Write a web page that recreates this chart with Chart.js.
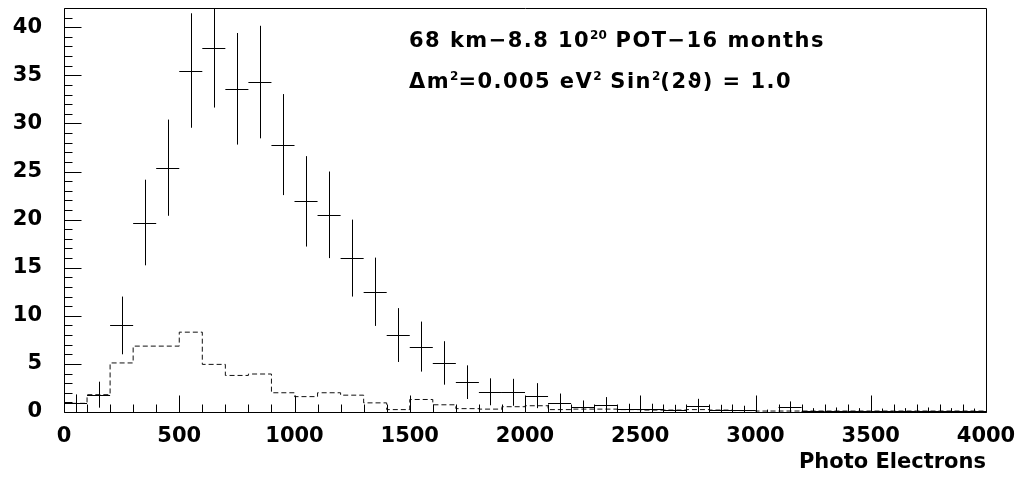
<!DOCTYPE html>
<html>
<head>
<meta charset="utf-8">
<title>Photo Electrons</title>
<script src="https://cdn.jsdelivr.net/npm/chart.js@4.4.1/dist/chart.umd.min.js"></script>
<style>
  html, body { margin: 0; padding: 0; background: #fff; }
  #wrap { position: relative; width: 1022px; height: 477px; }
</style>
</head>
<body>
<div id="wrap"><canvas id="peChart"></canvas></div>
<script>
// lower edge of each 100 p.e. bin
const binLow = [
  0, 100, 200, 300, 400, 500, 600, 700, 800, 900,
  1000, 1100, 1200, 1300, 1400, 1500, 1600, 1700, 1800, 1900,
  2000, 2100, 2200, 2300, 2400, 2500, 2600, 2700, 2800, 2900,
  3000, 3100, 3200, 3300, 3400, 3500, 3600, 3700, 3800, 3900
];
const binWidth = 100;
const xMax = 4000;

// expected events (crosses) and their errors
const signal = [
  0.9, 1.8, 9.0, 19.7, 25.4, 35.5, 37.8, 33.6, 34.3, 27.8,
  21.9, 20.5, 16.0, 12.5, 8.0, 6.8, 5.1, 3.1, 2.1, 2.05,
  1.7, 0.95, 0.5, 0.7, 0.3, 0.3, 0.25, 0.6, 0.25, 0.2,
  0.05, 0.5, 0.1, 0.12, 0.1, 0.08, 0.1, 0.12, 0.1, 0.08
];
const signalErr = [
  0.93, 1.35, 3.0, 4.45, 5.0, 5.95, 6.15, 5.8, 5.85, 5.25,
  4.7, 4.5, 4.0, 3.55, 2.8, 2.6, 2.26, 1.75, 1.4, 1.4,
  1.3, 0.97, 0.7, 0.85, 0.56, 0.56, 0.5, 0.77, 0.5, 0.45,
  0.2, 0.6, 0.3, 0.35, 0.3, 0.28, 0.3, 0.35, 0.3, 0.28
];

// dashed histogram
const background = [
  0.9, 1.8, 5.1, 6.85, 6.85, 8.3, 4.95, 3.8, 3.95, 2.0,
  1.6, 2.0, 1.75, 0.95, 0.25, 1.3, 0.75, 0.35, 0.3, 0.55,
  0.65, 0.25, 0.3, 0.3, 0.25, 0.2, 0.2, 0.25, 0.2, 0.15,
  0.1, 0.1, 0.1, 0.1, 0.1, 0.1, 0.1, 0.1, 0.1, 0.1
];

const xTicks = [0, 500, 1000, 1500, 2000, 2500, 3000, 3500, 4000];
const yTicks = [0, 5, 10, 15, 20, 25, 30, 35, 40];
const yMax = 42;

const titleLine1 = [['68 km\u22128.8 10'], ['20', true], [' POT\u221216 months']];
const titleLine2 = [['\u0394m'], ['2', true], ['=0.005 eV'], ['2', true], [' Sin'], ['2', true], ['(2\u03d1) = 1.0']];

const FONT = "'DejaVu Sans', sans-serif";

// step histogram points: left edge of each bin, plus closing point at xMax
const bgPoints = binLow.map((x, i) => ({ x: x, y: background[i] }));
bgPoints.push({ x: xMax, y: background[background.length - 1] });

const sigPoints = binLow.map((x, i) => ({ x: x + binWidth / 2, y: signal[i] }));

// crosses: full bin width horizontally, +-error vertically
const crossPlugin = {
  id: 'crosses',
  afterDatasetsDraw(chart) {
    const { ctx, chartArea, scales: { x, y } } = chart;
    ctx.save();
    ctx.beginPath();
    ctx.rect(chartArea.left, chartArea.top, chartArea.right - chartArea.left, chartArea.bottom - chartArea.top);
    ctx.clip();
    ctx.strokeStyle = '#000';
    ctx.lineWidth = 1;
    signal.forEach((v, i) => {
      const x0 = x.getPixelForValue(binLow[i]);
      const x1 = x.getPixelForValue(binLow[i] + binWidth);
      const xc = Math.round(x.getPixelForValue(binLow[i] + binWidth / 2)) + 0.5;
      const yc = Math.round(y.getPixelForValue(v)) + 0.5;
      const yTop = y.getPixelForValue(v + signalErr[i]);
      const yBot = y.getPixelForValue(Math.max(0, v - signalErr[i]));
      ctx.beginPath();
      ctx.moveTo(x0, yc);
      ctx.lineTo(x1, yc);
      ctx.moveTo(xc, yTop);
      ctx.lineTo(xc, yBot);
      ctx.stroke();
    });
    ctx.restore();
  }
};

// frame and inward ticks
const framePlugin = {
  id: 'frame',
  afterDraw(chart) {
    const { ctx, chartArea: a, scales: { x, y } } = chart;
    const L = Math.round(a.left) + 0.5, R = Math.round(a.right) + 0.5;
    const T = Math.round(a.top) + 0.5, B = Math.round(a.bottom) + 0.5;
    ctx.save();
    ctx.strokeStyle = '#000';
    ctx.lineWidth = 1;
    ctx.beginPath();
    ctx.rect(L, T, R - L, B - T);
    ctx.stroke();
    ctx.beginPath();
    for (let v = 0; v <= xMax; v += binWidth) {
      const px = Math.round(x.getPixelForValue(v)) + 0.5;
      const len = v % 500 === 0 ? 17 : 8;
      ctx.moveTo(px, B);
      ctx.lineTo(px, B - len);
    }
    for (let v = 0; v <= yMax; v += 1) {
      const py = Math.round(y.getPixelForValue(v)) + 0.5;
      const len = v % 5 === 0 ? 17 : 8;
      ctx.moveTo(L, py);
      ctx.lineTo(L + len, py);
    }
    ctx.stroke();
    ctx.restore();
  }
};

function drawRich(ctx, parts, x, baseline) {
  let cx = x;
  parts.forEach(([t, sup]) => {
    ctx.font = sup ? `bold 12px ${FONT}` : `bold 21px ${FONT}`;
    ctx.letterSpacing = sup ? '0px' : '1.45px';
    ctx.fillText(t, cx, sup ? baseline - 8 : baseline);
    cx += ctx.measureText(t).width;
  });
}

const labelPlugin = {
  id: 'labels',
  afterDraw(chart) {
    const { ctx } = chart;
    ctx.save();
    ctx.fillStyle = '#000';
    ctx.textBaseline = 'alphabetic';
    ctx.textAlign = 'left';
    drawRich(ctx, titleLine1, 409, 47);
    drawRich(ctx, titleLine2, 409, 88);
    ctx.restore();
  }
};

// keep the plot frame where the layout padding puts it
function noEdgePadding(axis) {
  axis.paddingTop = 0;
  axis.paddingBottom = 0;
  axis.paddingLeft = 0;
  axis.paddingRight = 0;
}

new Chart(document.getElementById('peChart'), {
  type: 'scatter',
  data: {
    datasets: [
      {
        type: 'line',
        data: bgPoints,
        stepped: 'before',
        borderColor: '#111',
        borderWidth: 1,
        borderDash: [5, 3],
        pointRadius: 0,
        fill: false
      },
      {
        data: sigPoints,
        pointRadius: 0,
        showLine: false
      }
    ]
  },
  options: {
    responsive: true,
    maintainAspectRatio: false,
    animation: false,
    events: [],
    layout: { padding: { left: 0, top: 8, right: 36, bottom: 0 }, autoPadding: false },
    plugins: { legend: { display: false }, tooltip: { enabled: false } },
    scales: {
      x: {
        type: 'linear',
        min: 0,
        max: xMax,
        afterBuildTicks: axis => { axis.ticks = xTicks.map(v => ({ value: v })); },
        afterFit: axis => { axis.height = 65; noEdgePadding(axis); },
        grid: { display: false, drawTicks: false },
        border: { display: false },
        ticks: {
          padding: 12,
          maxRotation: 0,
          color: '#000',
          callback: v => String(v),
          font: { family: FONT, size: 21, weight: 'bold' }
        },
        title: {
          display: true,
          text: 'Photo Electrons',
          align: 'end',
          color: '#000',
          padding: { top: 0, bottom: 2 },
          font: { family: FONT, size: 21, weight: 'bold' }
        }
      },
      y: {
        min: 0,
        max: yMax,
        afterBuildTicks: axis => { axis.ticks = yTicks.map(v => ({ value: v })); },
        afterFit: axis => { axis.width = 64; noEdgePadding(axis); },
        grid: { display: false, drawTicks: false },
        border: { display: false },
        ticks: {
          padding: 22,
          color: '#000',
          callback: v => String(v),
          font: { family: FONT, size: 21, weight: 'bold' }
        }
      }
    }
  },
  plugins: [crossPlugin, framePlugin, labelPlugin]
});
</script>
</body>
</html>
